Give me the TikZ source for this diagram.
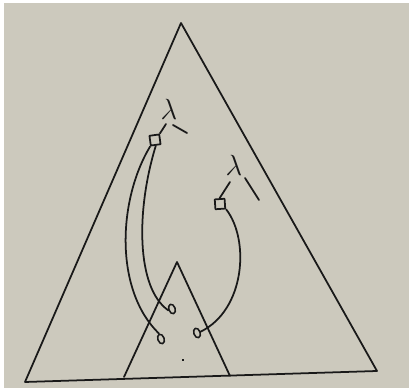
\documentclass[tikz,border=0pt]{standalone}
\usetikzlibrary{shapes.geometric}
\definecolor{paper}{RGB}{204,201,189}
\definecolor{ink}{RGB}{25,25,25}
\begin{document}
\begin{tikzpicture}[x=0.25mm,y=-0.25mm,
  pen/.style={draw=ink,line width=1.25pt,line cap=round,line join=round},
  boxnode/.style={pen,rectangle,minimum size=7pt,inner sep=0pt,rotate=8},
  ringnode/.style={pen,ellipse,minimum width=4.5pt,minimum height=7pt,inner sep=0pt,rotate=20,line width=1.1pt},
  lamnode/.style={text=ink,inner sep=0pt,font=\huge}]
\useasboundingbox (0,0) rectangle (409,388);
\fill[white] (0,0) rectangle (409,388);
\fill[paper] (4,3) rectangle (409,388);
% big triangle
\coordinate (A) at (181,23);
\coordinate (B) at (25,382);
\coordinate (C) at (377,371);
\draw[pen] (A) -- (B) -- (C) -- cycle;
% small triangle
\coordinate (a) at (177,262);
\coordinate (b) at (124,377);
\coordinate (c) at (230,376);
\draw[pen] (b) -- (a) -- (c);
% lambda 1
\node[lamnode] (lam1) at (169,109) {$\lambda$};
\node[boxnode] (sq1) at (155,140) {};
\coordinate (l1a) at (166,124);
\coordinate (l1r0) at (173,125);
\coordinate (l1r1) at (187,133);
\draw[pen] (l1a) -- (sq1.north east);
\draw[pen] (l1r0) -- (l1r1);
% lambda 2
\node[lamnode] (lam2) at (234,165) {$\lambda$};
\node[boxnode,rotate=-4] (sq2) at (220,204) {};
\coordinate (l2a) at (230,182);
\coordinate (l2r0) at (245,178);
\coordinate (l2r1) at (259,200);
\draw[pen] (l2a) -- (sq2.north);
\draw[pen] (l2r0) -- (l2r1);
% rings
\node[ringnode] (o1) at (172,309) {};
\node[ringnode] (o2) at (161,339) {};
\node[ringnode] (o3) at (197,333) {};
% connectors
\draw[pen] (sq1.south west) .. controls (118,200) and (114,290) .. (o2.north);
\draw[pen] (sq1.south) .. controls (136,210) and (136,288) .. (o1.west);
\draw[pen] (sq2.south east) .. controls (250,240) and (245,310) .. (o3.east);
% speck
\draw[ink,line width=0.8pt] (182,360) -- (184,360);
\end{tikzpicture}
\end{document}
